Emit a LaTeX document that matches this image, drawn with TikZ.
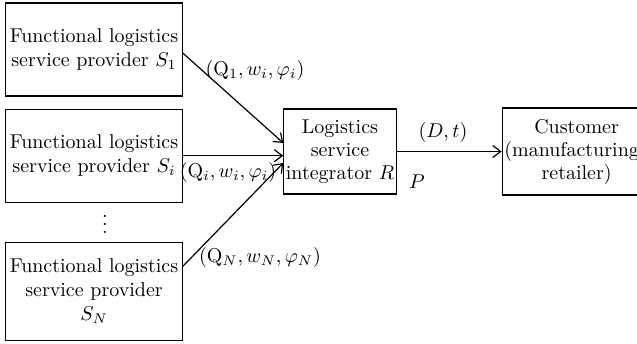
\documentclass[tikz,border=0pt]{standalone}
\usepackage{amsmath}
\usepackage{tikz}
\usetikzlibrary{arrows.meta,positioning}

\begin{document}
\begin{tikzpicture}[
  x=0.5pt, y=-0.5pt,
  node distance=6pt and 53pt,
  every node/.style={font=\fontsize{10}{12}\selectfont},
  box/.style={draw, line width=0.6pt, align=center, inner sep=2pt, minimum width=86pt, minimum height=46.5pt},
  midbox/.style={draw, line width=0.6pt, align=center, inner sep=1pt, minimum width=54pt, minimum height=42.5pt, font=\fontsize{10}{11.5}\selectfont},
  custbox/.style={draw, line width=0.6pt, align=center, inner sep=1pt, minimum width=73pt, minimum height=43.5pt, font=\fontsize{10}{11.5}\selectfont},
  arr/.style={-{Straight Barb[length=4pt,width=6pt]}, line width=0.6pt}
]
  \useasboundingbox (0,0) rectangle (637,343);
  \clip (0,0) rectangle (637,343);
  \node[box] (s1) at (94,49.5) {Functional logistics\\service provider $S_1$};
  \node[box, below=of s1] (si) {Functional logistics\\service provider $S_i$};
  \node[box, minimum height=49pt, below=19.5pt of si] (sn) {Functional logistics\\service provider\\$S_N$};
  \node (dots) at (105,218) {$\vdots$};
  \node[midbox] (integ) at (340,151.5) {Logistics\\service\\integrator $R$};
  \node[custbox, right=52.5pt of integ] (cust) {Customer\\(manufacturing/\\retailer)};
  % flow labels
  \node (lab1) at (255,70) {$(\mathrm{Q}_1, w_i, \varphi_i)$};
  \node (labi) at (228,172) {$(\mathrm{Q}_i, w_i, \varphi_i)$};
  \node (labn) at (260,257) {$(\mathrm{Q}_N, w_N, \varphi_N)$};
  \node (labd) at (443,132) {$(D, t)$};
  \node (labp) at (417,182) {$P$};
  \draw[arr] ([yshift=-1.75pt]s1.east) -- ([yshift=4.25pt]integ.west);
  \draw[arr] (si.east) -- (si.east -| integ.west);
  \draw[arr] ([yshift=12.5pt]sn.east) -- ([yshift=-5.75pt]integ.west);
  \draw[arr] (integ.east) -- (integ.east -| cust.west);
\end{tikzpicture}
\end{document}
